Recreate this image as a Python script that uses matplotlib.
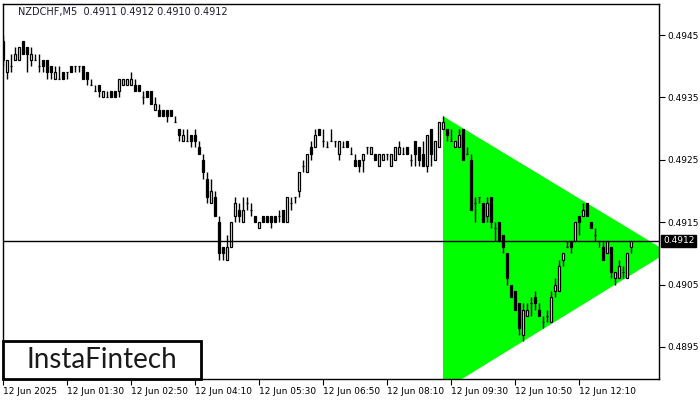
import matplotlib
matplotlib.use("Agg")
import matplotlib.pyplot as plt
from matplotlib.patches import Rectangle, Polygon
import matplotlib.transforms as mtransforms

# ---- data (NZDCHF, M5) ----
opens = [0.4944,0.4939,0.4940,0.4941,0.4941,0.4944,0.4943,0.4941,0.4941,0.4940,
         0.4941,0.4941,0.4940,0.4938,0.4938,0.4939,0.4939,0.4940,0.4940,0.4940,
         0.4940,0.4939,0.4937,0.4936,0.4937,0.4935,0.4935,0.4936,0.4936,0.4936,
         0.4937,0.4937,0.4937,0.4937,0.4937,0.4935,0.4936,0.4936,0.4933,0.4933,
         0.4933,0.4933,0.4933,0.4931,0.4930,0.4928,0.4928,0.4929,0.4929,0.4927,
         0.4925,0.4922,0.4918,0.4919,0.4915,0.4911,0.4909,0.4911,0.4916,0.4917,
         0.4915,0.4918,0.4917,0.4916,0.4914,0.4916,0.4916,0.4916,0.4916,0.4916,
         0.4917,0.4915,0.4918,0.4919,0.4920,0.4924,0.4923,0.4927,0.4927,0.4930,
         0.4928,0.4927,0.4928,0.4928,0.4926,0.4927,0.4928,0.4926,0.4925,0.4925,
         0.4925,0.4927,0.4926,0.4926,0.4924,0.4925,0.4926,0.4924,0.4925,0.4926,
         0.4926,0.4927,0.4925,0.4928,0.4927,0.4926,0.4924,0.4930,0.4925,0.4927,
         0.4930,0.4930,0.4928,0.4927,0.4927,0.4930,0.4926,0.4925,0.4918,0.4919,
         0.4918,0.4916,0.4919,0.4914,0.4915,0.4913,0.4910,0.4905,0.4904,0.4902,
         0.4897,0.4900,0.4902,0.4903,0.4901,0.4899,0.4900,0.4899,0.4904,0.4904,
         0.4909,0.4911,0.4912,0.4912,0.4916,0.4916,0.4918,0.4915,0.4913,0.4912,
         0.4911,0.4910,0.4911,0.4906,0.4906,0.4907,0.4906,0.4911]
highs = [0.4945,0.4941,0.4942,0.4943,0.4943,0.4944,0.4943,0.4943,0.4942,0.4942,
         0.4941,0.4941,0.4940,0.4940,0.4940,0.4939,0.4939,0.4940,0.4940,0.4940,
         0.4940,0.4939,0.4938,0.4937,0.4937,0.4936,0.4936,0.4936,0.4936,0.4938,
         0.4938,0.4938,0.4939,0.4938,0.4937,0.4936,0.4936,0.4936,0.4935,0.4934,
         0.4933,0.4933,0.4933,0.4932,0.4930,0.4930,0.4930,0.4929,0.4930,0.4928,
         0.4926,0.4923,0.4922,0.4920,0.4916,0.4911,0.4913,0.4915,0.4919,0.4918,
         0.4919,0.4919,0.4918,0.4916,0.4915,0.4916,0.4916,0.4916,0.4916,0.4917,
         0.4917,0.4919,0.4919,0.4919,0.4923,0.4925,0.4926,0.4928,0.4930,0.4930,
         0.4930,0.4928,0.4930,0.4928,0.4928,0.4928,0.4928,0.4927,0.4926,0.4925,
         0.4926,0.4927,0.4927,0.4926,0.4926,0.4926,0.4926,0.4926,0.4927,0.4928,
         0.4927,0.4927,0.4926,0.4928,0.4927,0.4928,0.4929,0.4930,0.4928,0.4931,
         0.4932,0.4930,0.4930,0.4928,0.4930,0.4930,0.4927,0.4926,0.4919,0.4919,
         0.4918,0.4919,0.4919,0.4915,0.4915,0.4913,0.4910,0.4905,0.4904,0.4902,
         0.4902,0.4902,0.4903,0.4904,0.4902,0.4900,0.4901,0.4904,0.4906,0.4909,
         0.4910,0.4912,0.4912,0.4915,0.4916,0.4918,0.4918,0.4915,0.4914,0.4912,
         0.4912,0.4912,0.4911,0.4907,0.4909,0.4908,0.4910,0.4912]
lows = [0.4940,0.4938,0.4939,0.4941,0.4941,0.4942,0.4939,0.4940,0.4941,0.4939,
        0.4939,0.4938,0.4938,0.4938,0.4938,0.4938,0.4938,0.4939,0.4939,0.4939,
        0.4938,0.4937,0.4937,0.4936,0.4935,0.4935,0.4935,0.4935,0.4935,0.4935,
        0.4937,0.4937,0.4937,0.4936,0.4936,0.4934,0.4935,0.4934,0.4933,0.4932,
        0.4932,0.4931,0.4932,0.4931,0.4928,0.4928,0.4928,0.4927,0.4927,0.4926,
        0.4922,0.4918,0.4918,0.4916,0.4909,0.4909,0.4909,0.4911,0.4915,0.4915,
        0.4915,0.4917,0.4916,0.4915,0.4914,0.4915,0.4915,0.4914,0.4915,0.4915,
        0.4915,0.4915,0.4917,0.4918,0.4919,0.4923,0.4923,0.4925,0.4927,0.4929,
        0.4927,0.4927,0.4928,0.4927,0.4925,0.4927,0.4927,0.4926,0.4924,0.4923,
        0.4923,0.4926,0.4926,0.4925,0.4924,0.4925,0.4925,0.4924,0.4925,0.4926,
        0.4926,0.4926,0.4924,0.4924,0.4924,0.4924,0.4923,0.4924,0.4925,0.4927,
        0.4930,0.4928,0.4928,0.4927,0.4927,0.4925,0.4926,0.4917,0.4915,0.4918,
        0.4915,0.4915,0.4914,0.4912,0.4912,0.4910,0.4905,0.4903,0.4901,0.4897,
        0.4896,0.4900,0.4900,0.4901,0.4900,0.4898,0.4899,0.4899,0.4903,0.4904,
        0.4908,0.4911,0.4910,0.4912,0.4913,0.4916,0.4916,0.4914,0.4912,0.4911,
        0.4909,0.4910,0.4906,0.4905,0.4906,0.4906,0.4906,0.4910]
closes = [0.4941,0.4941,0.4940,0.4942,0.4943,0.4942,0.4942,0.4942,0.4941,0.4940,
          0.4940,0.4939,0.4939,0.4939,0.4938,0.4938,0.4939,0.4939,0.4940,0.4940,
          0.4938,0.4938,0.4937,0.4936,0.4936,0.4936,0.4935,0.4935,0.4935,0.4938,
          0.4938,0.4938,0.4938,0.4936,0.4936,0.4935,0.4935,0.4934,0.4934,0.4932,
          0.4932,0.4932,0.4932,0.4931,0.4929,0.4929,0.4928,0.4928,0.4928,0.4926,
          0.4923,0.4919,0.4920,0.4916,0.4910,0.4910,0.4911,0.4915,0.4918,0.4916,
          0.4917,0.4918,0.4917,0.4915,0.4915,0.4915,0.4915,0.4915,0.4915,0.4916,
          0.4915,0.4919,0.4918,0.4919,0.4923,0.4924,0.4926,0.4926,0.4929,0.4929,
          0.4928,0.4927,0.4928,0.4928,0.4928,0.4927,0.4927,0.4926,0.4924,0.4924,
          0.4926,0.4927,0.4927,0.4925,0.4926,0.4926,0.4926,0.4926,0.4927,0.4927,
          0.4926,0.4926,0.4925,0.4926,0.4925,0.4924,0.4929,0.4926,0.4928,0.4931,
          0.4931,0.4929,0.4928,0.4928,0.4929,0.4925,0.4926,0.4917,0.4918,0.4919,
          0.4915,0.4918,0.4915,0.4914,0.4912,0.4911,0.4906,0.4903,0.4901,0.4898,
          0.4901,0.4901,0.4902,0.4902,0.4900,0.4899,0.4900,0.4903,0.4905,0.4908,
          0.4910,0.4911,0.4911,0.4915,0.4915,0.4917,0.4916,0.4914,0.4913,0.4912,
          0.4909,0.4912,0.4907,0.4907,0.4908,0.4907,0.4910,0.4912]

# triangle pattern: (bar index, price)
tri_bars = [110, 110, 166.25]
tri_prices = [0.49320, 0.48880, 0.49102]

current_price = 0.4912
title_text = "NZDCHF,M5  0.4911 0.4912 0.4910 0.4912"
y_ticks = [0.4895, 0.4905, 0.4915, 0.4925, 0.4935, 0.4945]
x_tick_pos = [0, 16, 32, 48, 64, 80, 96, 112, 128, 144]
x_tick_labels = ["12 Jun 2025", "12 Jun 01:30", "12 Jun 02:50", "12 Jun 04:10",
                 "12 Jun 05:30", "12 Jun 06:50", "12 Jun 08:10", "12 Jun 09:30",
                 "12 Jun 10:50", "12 Jun 12:10"]

# ---- figure ----
W, H = 700, 400
fig = plt.figure(figsize=(7, 4), dpi=100)
ax = fig.add_axes([3 / W, 21 / H, 656 / W, 375 / H])
ax.set_xlim(0, 164)
ax.set_ylim(0.488987, 0.494997)

# triangle
ax.add_patch(Polygon(list(zip(tri_bars, tri_prices)), closed=True,
                     facecolor="#00ff00", edgecolor="none", zorder=1))

# current price line
ax.axhline(current_price, color="black", lw=1, zorder=4)

# candles
n = len(opens)
xs = list(range(n))
ax.vlines(xs, lows, highs, color="black", lw=1, zorder=2)
bw = 0.62
for i in range(n):
    o, c = opens[i], closes[i]
    bull = c >= o
    ax.add_patch(Rectangle((i - bw / 2, min(o, c)), bw, abs(c - o),
                           facecolor="white" if bull else "black",
                           edgecolor="black", lw=0.9, zorder=3))

# axes styling
for s in ax.spines.values():
    s.set_color("black")
    s.set_linewidth(1)
ax.yaxis.tick_right()
ax.set_yticks(y_ticks)
ax.set_yticklabels([f"{v:.4f}" for v in y_ticks])
ax.tick_params(axis="y", direction="out", length=4, width=0.8, pad=2,
               labelsize=6.5, colors="black")
ax.set_xticks(x_tick_pos)
ax.set_xticklabels(x_tick_labels)
ax.tick_params(axis="x", direction="out", length=4, width=0.8, pad=2,
               labelsize=6.5, colors="black")
for lbl in ax.get_xticklabels():
    lbl.set_ha("left")

# title
ax.text(15 / 656, 1 - 8 / 375, title_text, transform=ax.transAxes,
        fontsize=7, color="#1b1b2f", va="center", ha="left")

# current price label
trans = mtransforms.blended_transform_factory(ax.transAxes, ax.transData)
ax.text(1 + 4 / 656, current_price, f"{current_price:.4f}", transform=trans,
        fontsize=6.5, color="white", va="center", ha="left",
        bbox=dict(boxstyle="square,pad=0.2", facecolor="black", edgecolor="black"))

# logo box
fig.patches.append(Rectangle((3 / W, (H - 379) / H), 198 / W, 38 / H,
                             transform=fig.transFigure, facecolor="white",
                             edgecolor="black", lw=2, zorder=10))
fig.text(102 / W, (H - 360) / H, "InstaFintech", fontsize=20, family="Lato",
         color="#1a1a1a", ha="center", va="center", zorder=11)

fig.savefig("out.png", dpi=100)
